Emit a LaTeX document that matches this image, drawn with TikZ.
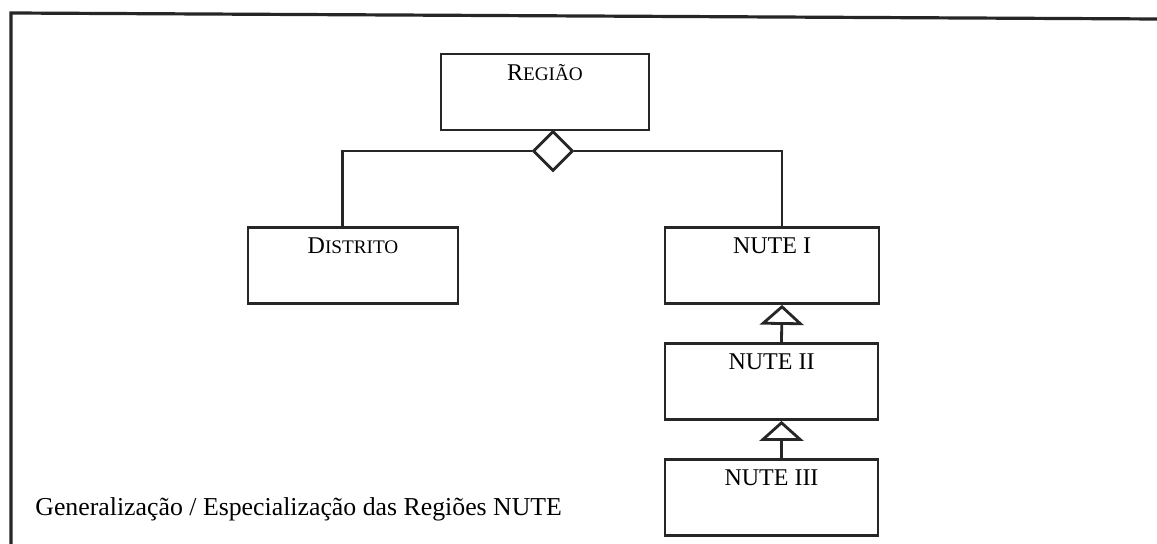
\documentclass[tikz,border=0pt]{standalone}
\usepackage{fontspec}
\setmainfont{Liberation Serif}
\usetikzlibrary{shapes.geometric,arrows.meta}
\newcommand{\fsc}[2]{#1{\fontsize{9.6}{11}\selectfont #2}}
\tikzset{
  frame/.style={line width=1.6pt, draw=black!85},
  classbox/.style={draw=black!85, line width=1.4pt, minimum height=38pt, inner sep=0pt, fill=white},
  ttl/.style={font=\fontsize{12}{14}\selectfont, inner sep=5.7pt, anchor=north},
  conn/.style={draw=black!85, line width=1.4pt},
  gen/.style={conn, -{Triangle[open, length=10pt, width=22pt, line width=1.4pt]}},
}
\begin{document}
\begin{tikzpicture}[x=0.5pt,y=-0.5pt]
\useasboundingbox (0,0) rectangle (1157,544);
% outer frame
\coordinate (ftl) at (11,13);
\coordinate (ftr) at (1157,19);
\coordinate (fbl) at (11,544);
\draw[frame] (ftr) -- (ftl) -- (fbl);
% classes
\node[classbox, minimum width=104pt, label={[ttl]north:\fsc{R}{EGIÃO}}] (reg) at (545,92) {};
\node[classbox, minimum width=105pt, label={[ttl]north:\fsc{D}{ISTRITO}}] (dis) at (353,265.5) {};
\node[classbox, minimum width=107pt, label={[ttl]north:NUTE I}] (n1) at (772,265.5) {};
\node[classbox, minimum width=106.5pt, label={[ttl]north:NUTE II}] (n2) at (771.5,381.5) {};
\node[classbox, minimum width=106.5pt, label={[ttl]north:NUTE III}] (n3) at (771.5,497.5) {};
% aggregation diamond
\node[diamond, draw=black!85, line width=1.4pt, fill=white, minimum width=20pt, minimum height=20pt, inner sep=0pt] (dia) at (553,151) {};
\draw[conn] (dia.west) -| ([xshift=-5.25pt]dis.north);
\draw[conn] (dia.east) -| ([xshift=5pt]n1.north);
% generalisation
\draw[gen] ([xshift=5pt]n2.north) -- ([xshift=5pt]n1.south);
\draw[gen] ([xshift=5pt]n3.north) -- ([xshift=5pt]n2.south);
% caption
\node[anchor=base west, inner sep=0pt, font=\fontsize{12.9}{15}\selectfont] (cap) at (35,516) {Generalização / Especialização das Regiões NUTE};
\end{tikzpicture}
\end{document}
